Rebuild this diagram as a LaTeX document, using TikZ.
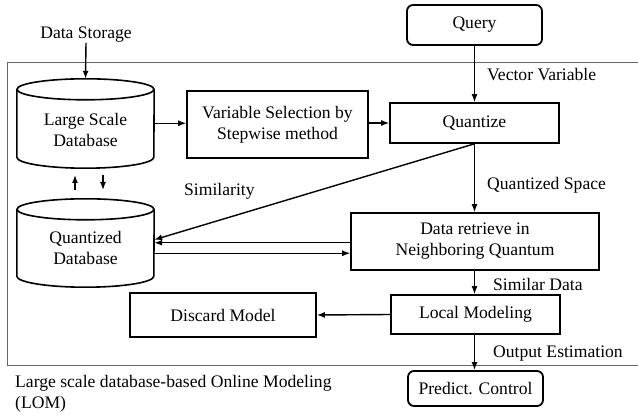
\documentclass[tikz,border=0pt]{standalone}
\usepackage{fontspec}
\setmainfont{Liberation Serif}
\usetikzlibrary{arrows.meta}
\begin{document}
\begin{tikzpicture}[x=1pt,y=-1pt,
  every node/.style={font=\fontsize{17.6}{21}\selectfont, inner sep=0pt},
  boxn/.style={draw, line width=1.6pt, align=center},
  roundn/.style={draw, line width=1.8pt, rounded corners=6pt, align=center},
  cylbody/.style={align=center},
  cylline/.style={line width=1.6pt},
  arr/.style={line width=1.4pt, -{Latex[length=8pt,width=6pt]}},
  lbl/.style={anchor=west},
  frame/.style={draw=black!60, line width=0.9pt}
]
\useasboundingbox (0,0) rectangle (638,417);
% frame
\draw[frame] (645,62) -- (7,62) -- (7,365) -- (645,365);

% nodes
\node (ds) at (86,35) {Data Storage};
\node[roundn, minimum width=135pt, minimum height=40pt] (query) at (474.5,25) {Query};
\node[minimum width=137pt, minimum height=67.5pt] (lsd) at (85.5,123.25) {};
\node[minimum width=137pt, minimum height=66.5pt] (qd) at (85.5,242.75) {};
\node[cylbody] (lsdt) at (85.5,130) {Large Scale\\Database};
\node[cylbody] (qdt) at (85.5,248) {Quantized\\Database};
\node[boxn, minimum width=181pt, minimum height=67pt] (vs) at (277.5,124.5) {Variable Selection by\\Stepwise method};
\node[boxn, minimum width=169pt, minimum height=40pt] (q) at (474.5,123) {Quantize};
\node[boxn, minimum width=248pt, minimum height=57pt] (dr) at (475,241.5) {Data retrieve in\\Neighboring Quantum};
\node[boxn, minimum width=169pt, minimum height=39pt] (lm) at (475.5,314.5) {Local Modeling};
\node[boxn, minimum width=186pt, minimum height=44pt] (dm) at (223,315) {Discard Model};
\node[roundn, minimum width=135pt, minimum height=35pt] (pc) at (475.5,388.5) {Predict. Control};

% cylinders
\foreach \c in {lsd,qd}{
  \draw[cylline] (\c.north west) -- (\c.south west)
    arc[start angle=180, end angle=360, x radius=68.5pt, y radius=11pt]
    -- (\c.north east);
  \draw[cylline] (\c.north) ellipse [x radius=68.5pt, y radius=10.5pt];
}

% labels
\node[lbl] (lvv) at (487,75) {Vector Variable};
\node[lbl] (lqs) at (487,185) {Quantized Space};
\node[lbl] (lsim) at (184,191) {Similarity};
\node[lbl] (lsd2) at (493,284) {Similar Data};
\node[lbl] (loe) at (493,354) {Output Estimation};
\node[anchor=west, align=left] (lom) at (15,393.5) {Large scale database-based Online Modeling\\(LOM)};

% connectors
\coordinate (lsdtop) at ([yshift=10.5pt]lsd.north);
\draw[arr] (ds.south) -- (lsdtop);
\draw[arr] (lsd.east) -- (lsd.east -| vs.west);
\draw[arr] (vs.east |- q.west) -- (q.west);
\draw[arr] (query.south) -- (query.south |- q.north);
\draw[arr] (q.south) -- (q.south |- dr.north);
\draw[arr] (q.south) -- ([yshift=3pt]qd.east);
\draw[arr] (dr.west |- qd.east) -- (qd.east);
\coordinate (qdlow) at ([yshift=-10.5pt]qd.east);
\draw[arr] (qdlow) -- (qdlow -| dr.west);
\draw[arr] (q.south |- dr.south) -- (q.south |- lm.north);
\draw[arr] (lm.west) -- (dm.east);
\draw[arr] (q.south |- lm.south) -- (q.south |- pc.north);

% short arrows between databases
\coordinate (ua1) at (75,190);
\coordinate (ua2) at (75,175);
\coordinate (da1) at (103,175);
\coordinate (da2) at (103,190);
\draw[arr] (ua1) -- (ua2);
\draw[arr] (da1) -- (da2);
\end{tikzpicture}
\end{document}
